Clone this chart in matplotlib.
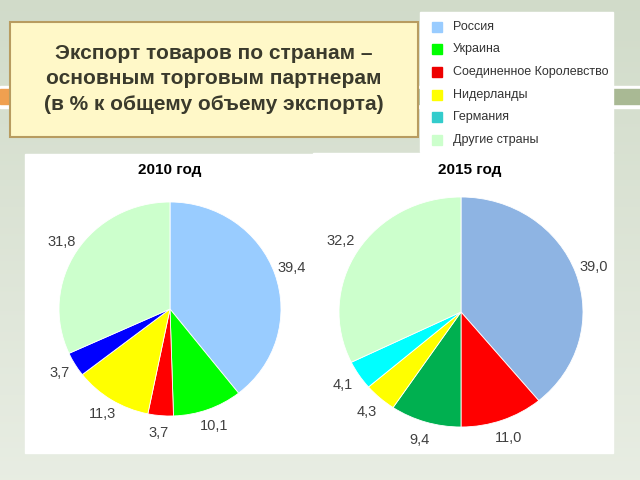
import matplotlib
matplotlib.use('Agg')
import matplotlib.pyplot as plt
import numpy as np
from matplotlib.patches import Rectangle

plt.rcParams['font.family'] = ['Liberation Sans', 'DejaVu Sans']

countries = ['Россия', 'Украина', 'Соединенное Королевство', 'Нидерланды', 'Германия', 'Другие страны']
legend_colors = ['#99CCFF', '#00FF00', '#EE0000', '#FFFF00', '#33CCCC', '#CCFFCC']

# values per country (same order as countries), order = clockwise order in the pie
share_2010 = [39.4, 10.1, 3.7, 11.3, 3.7, 31.8]
order_2010 = [0, 1, 2, 3, 4, 5]
colors_2010 = ['#99CCFF', '#00FF00', '#FF0000', '#FFFF00', '#0000FF', '#CCFFCC']

# 2015: UK comes before Ukraine
share_2015 = [39.0, 9.4, 11.0, 4.3, 4.1, 32.2]
order_2015 = [0, 2, 1, 3, 4, 5]
colors_2015 = ['#8EB4E3', '#00B050', '#FF0000', '#FFFF00', '#00FFFF', '#CCFFCC']

title = 'Экспорт товаров по странам –\nосновным торговым партнерам\n(в % к общему объему экспорта)'

W, H = 640, 480
fig = plt.figure(figsize=(6.4, 4.8), dpi=100)

# background / slide decorations in pixel coords
bg = fig.add_axes([0, 0, 1, 1])
bg.set_xlim(0, W)
bg.set_ylim(H, 0)
bg.axis('off')
grad = np.linspace(0, 1, 256)[:, None]
top = np.array([0.82, 0.86, 0.79])
bot = np.array([0.91, 0.93, 0.89])
img = top + (bot - top) * grad[..., None]
bg.imshow(img, extent=[0, W, H, 0], aspect='auto', zorder=0)

bg.add_patch(Rectangle((0, 86), W, 22, color='white', zorder=1))
bg.add_patch(Rectangle((0, 89), 300, 15, color='#F0A050', zorder=2))
bg.add_patch(Rectangle((300, 89), 340, 15, color='#A9B994', zorder=2))

bg.add_patch(Rectangle((10, 22), 408, 115, facecolor='#FFF8C8', edgecolor='#B89C60', lw=1.5, zorder=3))
bg.text(214, 79, title, ha='center', va='center', fontsize=15, fontweight='bold',
        color='#3A3A2C', linespacing=1.42, zorder=4)

bg.add_patch(Rectangle((420, 12), 193, 140, color='white', zorder=3))
for i, (name, c) in enumerate(zip(countries, legend_colors)):
    y = 26.5 + i * 22.7
    bg.add_patch(Rectangle((432, y - 5), 10, 10, color=c, zorder=4))
    bg.text(453, y, name, ha='left', va='center', fontsize=9, color='#333333', zorder=4)

bg.add_patch(Rectangle((25, 154), 288, 299, color='white', zorder=3))
bg.add_patch(Rectangle((313, 153), 300, 300, color='white', zorder=3))
bg.text(170, 170, '2010 год', ha='center', va='center', fontsize=11, fontweight='bold', zorder=4)
bg.text(470, 170, '2015 год', ha='center', va='center', fontsize=11, fontweight='bold', zorder=4)


def draw_pie(cx, cy, rx, ry, shares, order, colors, dist):
    ax = fig.add_axes([(cx - rx) / W, 1 - (cy + ry) / H, 2 * rx / W, 2 * ry / H])
    vals = [shares[k] for k in order]
    cols = [colors[k] for k in order]
    wedges, _ = ax.pie(vals, colors=cols, startangle=90, counterclock=False,
                       wedgeprops=dict(edgecolor='white', linewidth=0.6))
    ax.set_aspect('auto')
    ax.set_xlim(-1, 1)
    ax.set_ylim(-1, 1)
    for w, v in zip(wedges, vals):
        a = np.deg2rad((w.theta1 + w.theta2) / 2)
        ax.text(dist * np.cos(a), dist * np.sin(a), f'{v:.1f}'.replace('.', ','),
                ha='center', va='center', fontsize=10.5, color='#404040')


draw_pie(170, 309, 111, 107, share_2010, order_2010, colors_2010, 1.16)
draw_pie(461, 312, 122, 115, share_2015, order_2015, colors_2015, 1.16)

fig.savefig('out.png', dpi=100)
